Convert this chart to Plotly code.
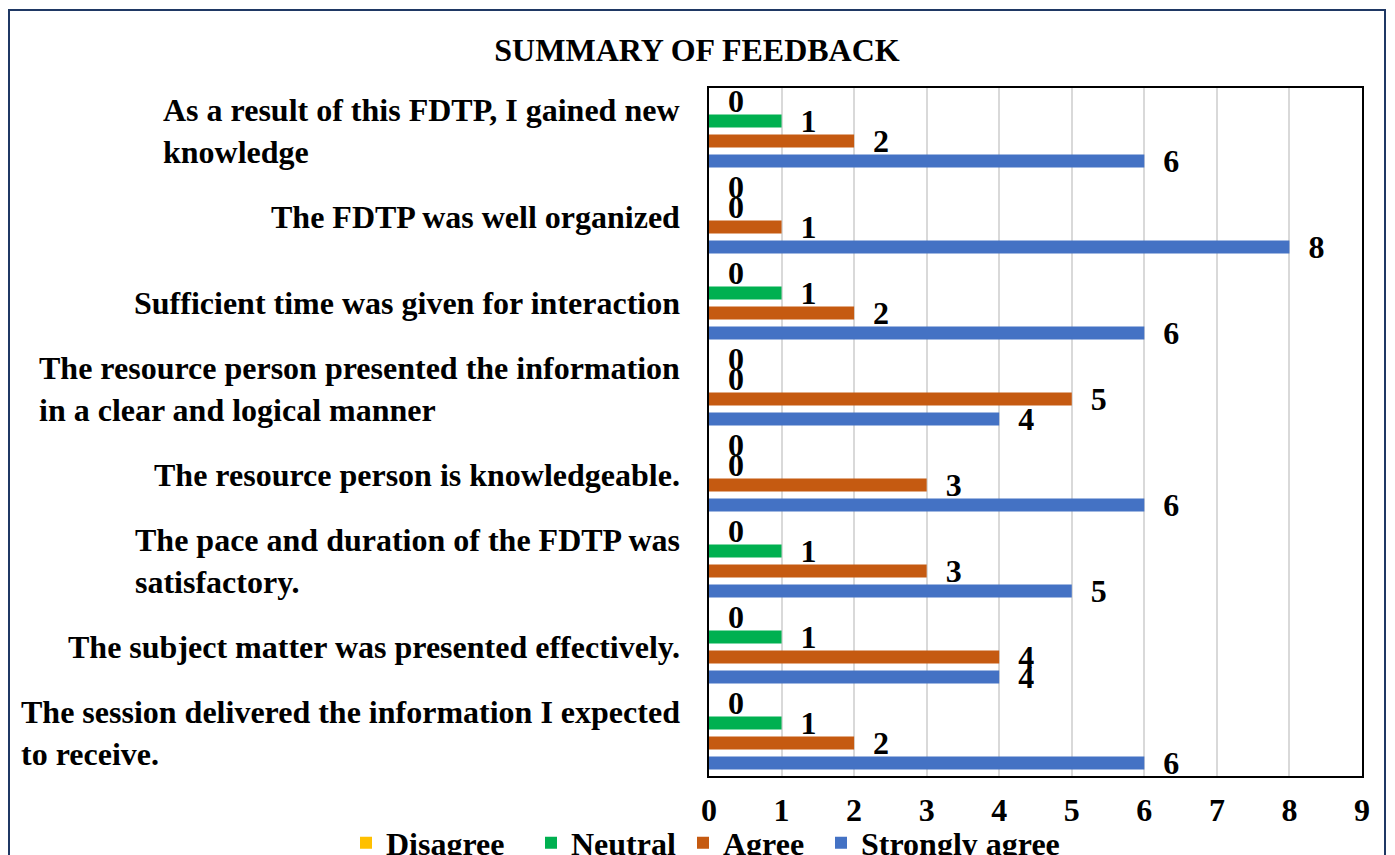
import plotly.graph_objects as go

categories = [
    "As a result of this FDTP, I gained new<br>knowledge",
    "The FDTP was well organized",
    "Sufficient time was given for interaction",
    "The resource person presented the information<br>in a clear and logical manner",
    "The resource person is knowledgeable.",
    "The pace and duration of the FDTP was<br>satisfactory.",
    "The subject matter was presented effectively.",
    "The session delivered the information I expected<br>to receive.",
]
disagree = [0, 0, 0, 0, 0, 0, 0, 0]
neutral = [1, 0, 1, 0, 0, 1, 1, 1]
agree = [2, 1, 2, 5, 3, 3, 4, 2]
strongly_agree = [6, 8, 6, 4, 6, 5, 4, 6]
x_ticks = [0, 1, 2, 3, 4, 5, 6, 7, 8, 9]

series = [
    ("Disagree", disagree, "#FFC000"),
    ("Neutral", neutral, "#00B050"),
    ("Agree", agree, "#C55A11"),
    ("Strongly agree", strongly_agree, "#4472C4"),
]

FONT = "Liberation Serif"
FS = 32
L, R, T, B = 701, 41, 80, 87
PW, PH = 1395 - L - R, 855 - T - B
legend_px = [338, 523, 675, 813]  # left edge of each legend entry (figure px)
legend_ids = ["legend", "legend2", "legend3", "legend4"]

fig = go.Figure()
for (name, vals, color), lid in zip(series, legend_ids):
    fig.add_trace(go.Bar(
        name=name, x=vals, y=categories, orientation="h",
        marker=dict(color=color, line=dict(width=0)),
        text=vals, texttemplate="\u00a0\u00a0%{x}",
        textposition="outside", constraintext="none", cliponaxis=False,
        textfont=dict(family=FONT, size=FS, color="black", weight="bold"),
        legend=lid,
    ))

for c in categories:
    fig.add_annotation(
        x=0, xref="paper", y=c, yref="y", xanchor="right", yanchor="middle",
        xshift=-27, align="left", showarrow=False, text=c,
        font=dict(family=FONT, size=FS, color="black", weight="bold"),
    )

# outer frame (paper coordinates extending beyond the plot area)
fig.add_shape(type="rect", xref="paper", yref="paper",
              x0=(1 - L) / PW, x1=(1377 - L) / PW,
              y0=-0.2, y1=1 + (T - 2) / PH,
              line=dict(color="#1F3864", width=2), fillcolor="rgba(0,0,0,0)", layer="below")

legend_common = dict(orientation="h", xref="paper", xanchor="left",
                     yref="paper", y=-67 / PH, yanchor="middle",
                     bgcolor="rgba(0,0,0,0)",
                     font=dict(family=FONT, size=FS, color="black", weight="bold"),
                     itemwidth=30)

fig.update_layout(
    width=1395, height=855,
    margin=dict(l=L, r=R, t=T, b=B, autoexpand=False),
    paper_bgcolor="white", plot_bgcolor="white",
    barmode="group", bargap=0.07, bargroupgap=0.35,
    title=dict(text="<b>SUMMARY OF FEEDBACK</b>", x=689 / 1395, xref="container", xanchor="center",
               y=1 - 42 / 855, yref="container", yanchor="middle",
               font=dict(family=FONT, size=FS, color="black")),
    font=dict(family=FONT, color="black"),
    showlegend=True,
)
for lid, px in zip(legend_ids, legend_px):
    fig.update_layout({lid: dict(legend_common, x=(px - L) / PW)})

fig.update_xaxes(range=[0, 9], tickvals=x_ticks, showgrid=True, gridcolor="#D9D9D9", gridwidth=2,
                 showline=True, linecolor="black", linewidth=2, mirror=True, zeroline=False,
                 tickfont=dict(family=FONT, size=FS, color="black", weight="bold"),
                 ticklabelstandoff=5)
fig.update_yaxes(autorange="reversed", showticklabels=False, showline=True, linecolor="black",
                 linewidth=2, mirror=True, showgrid=False)

fig.write_html("out.html")
